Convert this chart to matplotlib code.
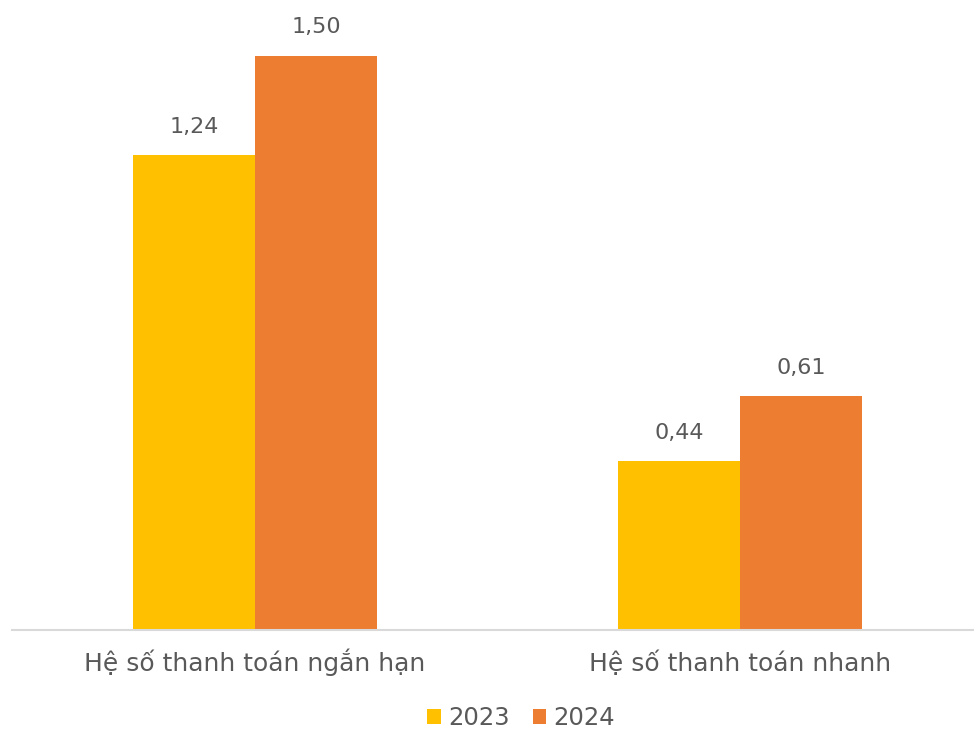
import matplotlib
matplotlib.use("Agg")
import matplotlib.pyplot as plt
import matplotlib.transforms as mtransforms
import numpy as np

categories = ["Hệ số thanh toán ngắn hạn", "Hệ số thanh toán nhanh"]
series_names = ["2023", "2024"]
values_2023 = [1.24, 0.44]
values_2024 = [1.50, 0.61]
colors = ["#FFC000", "#ED7D31"]
text_color = "#595959"

plt.rcParams['font.family'] = ['DejaVu Sans']

fig = plt.figure(figsize=(9.74, 7.29), dpi=100)
ax = fig.add_axes([12/974, 1 - 630/729, 962/974, 630/729])

x = np.arange(len(categories))
w = 0.2515
b1 = ax.bar(x - w/2, values_2023, w, color=colors[0], label=series_names[0])
b2 = ax.bar(x + w/2, values_2024, w, color=colors[1], label=series_names[1])

for bars, vals in ((b1, values_2023), (b2, values_2024)):
    for r, v in zip(bars, vals):
        ax.annotate(f"{v:.2f}".replace(".", ","), (r.get_x() + r.get_width()/2, v),
                    xytext=(0, 13), textcoords="offset points", ha="center", va="bottom",
                    fontsize=16, color=text_color)

ax.set_xlim(-243/485, (962 - 243)/485)
ax.set_ylim(0, 630/383)
ax.set_xticks([])
ax.set_yticks([])
trans = mtransforms.blended_transform_factory(ax.transData, ax.transAxes)
for xi, cat in zip(x, categories):
    ax.text(xi, -41/630, cat, transform=trans, ha="center", va="baseline",
            fontsize=18, color=text_color)
for s in ["top", "right", "left"]:
    ax.spines[s].set_visible(False)
ax.spines["bottom"].set_color("#D9D9D9")
ax.spines["bottom"].set_linewidth(1.5)

leg = fig.legend(loc="center", bbox_to_anchor=(0.535, 1 - 718/729), ncol=2, frameon=False,
                 fontsize=17.5, handlelength=0.55, handleheight=0.55, handletextpad=0.3,
                 columnspacing=0.95)
for t in leg.get_texts():
    t.set_color(text_color)

fig.savefig("out.png", dpi=100)
